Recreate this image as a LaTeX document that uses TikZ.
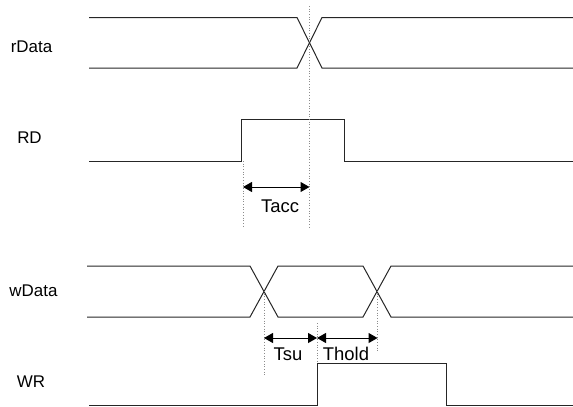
\documentclass[tikz,border=0pt]{standalone}
\usepackage{fontspec}
\setmainfont{Liberation Sans}
\usetikzlibrary{arrows.meta}
\begin{document}
\begin{tikzpicture}[x=1bp,y=-1bp,
  sig/.style={line width=1bp,draw=black!85,line join=miter},
  guide/.style={line width=0.7bp,draw=black!45,dotted},
  dim/.style={line width=1bp,draw=black,{Triangle[length=9bp,width=10bp]}-{Triangle[length=9bp,width=10bp]}},
  lbl/.style={font=\fontsize{17}{20}\selectfont,inner sep=0pt},
  tlbl/.style={font=\fontsize{18.5}{22}\selectfont,inner sep=0pt}]
\useasboundingbox (0,0) rectangle (573,406);
% labels
\node[lbl] (lrdata) at (31.5,46.5) {rData};
\node[lbl] (lrd) at (29.5,138) {RD};
\node[lbl] (lwdata) at (33.5,291) {wData};
\node[lbl] (lwr) at (31,381.5) {WR};
% rData
\draw[sig] (89,17.5) -- (297,17.5) -- (322,68) -- (573,68);
\draw[sig] (89,68) -- (297,68) -- (322,17.5) -- (573,17.5);
% RD
\draw[sig] (89,161) -- (241,161) -- (241,119) -- (344,119) -- (344,161) -- (573,161);
% wData
\draw[sig] (87,266) -- (250,266) -- (278,317) -- (363,317) -- (391,266) -- (573,266);
\draw[sig] (87,317) -- (250,317) -- (278,266) -- (363,266) -- (391,317) -- (573,317);
% WR
\draw[sig] (89,405) -- (317,405) -- (317,363) -- (446,363) -- (446,405) -- (573,405);
% guides
\coordinate (g1t) at (309.5,6);   \coordinate (g1b) at (309.5,227);
\coordinate (g2t) at (243,161);   \coordinate (g2b) at (243,227);
\coordinate (g3t) at (264,291);   \coordinate (g3b) at (264,377);
\coordinate (g4t) at (317,323);   \coordinate (g4b) at (317,363);
\coordinate (g5t) at (377.5,291); \coordinate (g5b) at (377.5,352);
\draw[guide] (g1t) -- (g1b);
\draw[guide] (g2t) -- (g2b);
\draw[guide] (g3t) -- (g3b);
\draw[guide] (g4t) -- (g4b);
\draw[guide] (g5t) -- (g5b);
% dimensions
\coordinate (a1) at (243,187); \coordinate (a2) at (309.5,187);
\coordinate (b1) at (264,338); \coordinate (b2) at (317,338); \coordinate (b3) at (377.5,338);
\draw[dim] (a1) -- (a2);
\draw[dim] (b1) -- (b2);
\draw[dim] (b2) -- (b3);
\node[tlbl] (tacc) at (280,206) {Tacc};
\node[tlbl] (tsu) at (288,354) {Tsu};
\node[tlbl] (thold) at (346,354) {Thold};
\end{tikzpicture}
\end{document}
